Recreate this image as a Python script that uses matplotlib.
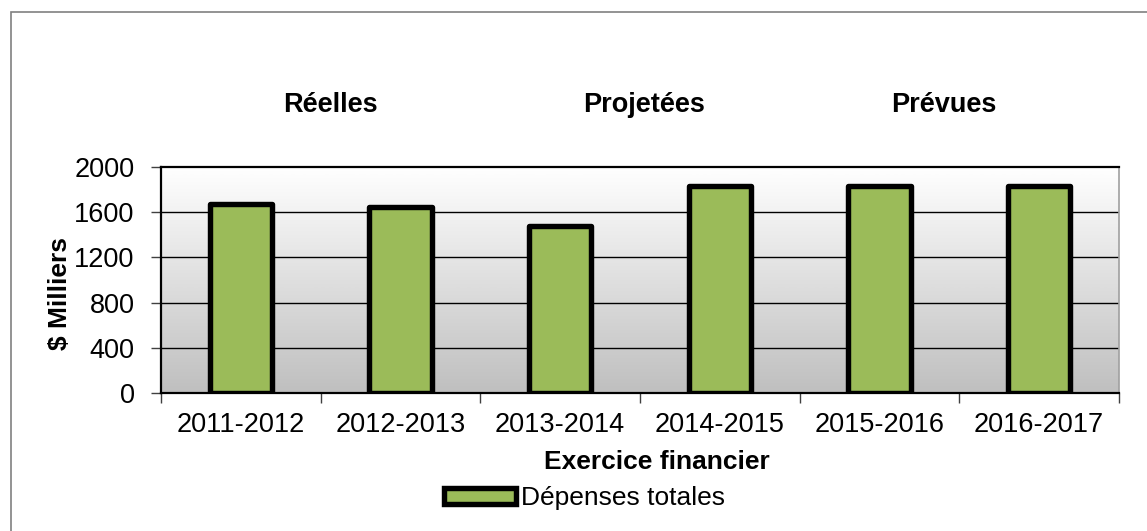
import matplotlib
matplotlib.use("Agg")
import matplotlib.pyplot as plt
import numpy as np
from matplotlib.patches import Rectangle

plt.rcParams['font.family'] = ['Liberation Sans', 'DejaVu Sans']

categories = ["2011-2012", "2012-2013", "2013-2014", "2014-2015", "2015-2016", "2016-2017"]
values = [1672, 1648, 1478, 1835, 1835, 1835]
series_name = "Dépenses totales"
group_labels = ["Réelles", "Projetées", "Prévues"]
yticks = [0, 400, 800, 1200, 1600, 2000]

W, H = 1147, 531
fig = plt.figure(figsize=(W / 100, H / 100), dpi=100)

def px(x, y):
    return x / W, 1 - y / H

# outer border
fig.patches.append(Rectangle((11 / W, -0.1), 1.2, 1 - 12 / H + 0.1, transform=fig.transFigure,
                             fill=False, edgecolor='#808080', linewidth=1.2))

L, T, R, B = 161, 167, 1119, 393
ax = fig.add_axes([L / W, 1 - B / H, (R - L) / W, (B - T) / H])

x = np.arange(len(categories))
ax.set_xlim(-0.5, len(categories) - 0.5)
ax.set_ylim(0, 2000)

# gradient background
grad = np.linspace(0, 1, 256).reshape(-1, 1)
top = np.array([1.0, 1.0, 1.0])
bot = np.array([0.75, 0.75, 0.75])
img = (top[None, None, :] + (bot - top)[None, None, :] * grad[:, :, None])
ax.imshow(img, extent=[-0.5, len(categories) - 0.5, 0, 2000], aspect='auto', origin='upper', zorder=0)

for yv in yticks[1:-1]:
    ax.axhline(yv, color='black', linewidth=1.0, zorder=1)

bars = ax.bar(x, values, width=0.39, color='#9BBB59', edgecolor='black', linewidth=3.9,
              zorder=3, label=series_name, joinstyle='round')

ax.set_yticks(yticks)
ax.set_yticklabels([str(v) for v in yticks], fontsize=19.5)
ax.set_xticks(x)
ax.set_xticklabels(categories, fontsize=19.5)
ax.set_xticks(np.arange(-0.5, len(categories), 1), minor=True)
ax.tick_params(axis='x', which='major', length=0, pad=14)
ax.tick_params(axis='x', which='minor', length=7, width=1, color='#404040', direction='out')
ax.tick_params(axis='y', length=7, width=1, color='#404040', direction='out', pad=12)

for side in ['left', 'top', 'bottom']:
    ax.spines[side].set_linewidth(1.6)
    ax.spines[side].set_color('black')
ax.spines['right'].set_linewidth(1.2)
ax.spines['right'].set_color('#a0a0a0')

fig.text(*px(657, 462), "Exercice financier", fontsize=19, fontweight='bold',
         ha='center', va='center')

fig.text(*px(60, 294), "$ Milliers", rotation=90, fontsize=19, fontweight='bold',
         ha='center', va='center')

group_x = [330, 644, 944]
for gx, gl in zip(group_x, group_labels):
    fig.text(*px(gx, 105), gl, fontsize=19.5, fontweight='bold', ha='center', va='center')

leg = fig.legend(handles=[bars[0]], labels=[series_name], loc='center left',
                 bbox_to_anchor=px(433, 498), frameon=False, fontsize=19,
                 handlelength=2.75, handleheight=0.55, handletextpad=0.2, borderaxespad=0)

fig.savefig("out.png", dpi=100)
